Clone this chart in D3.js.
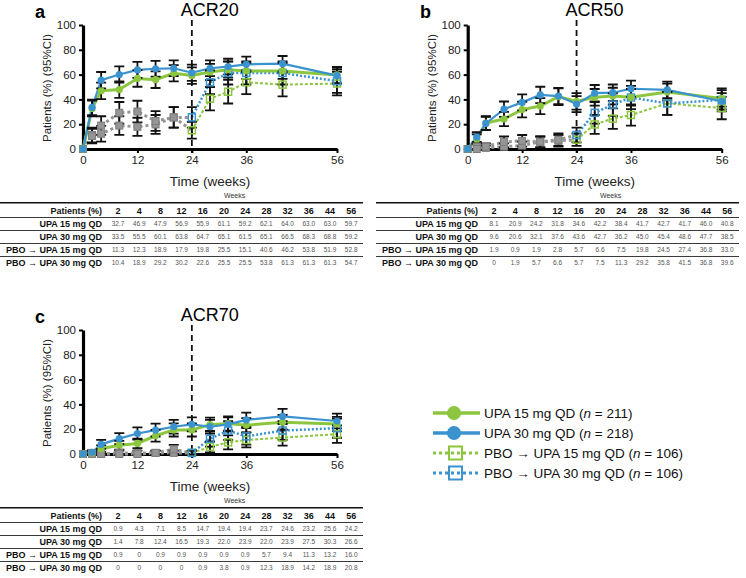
<!DOCTYPE html>
<html><head><meta charset="utf-8">
<script src="https://cdn.jsdelivr.net/npm/d3@7"></script>
<style>body{margin:0;background:#fff}svg{display:block;font-family:"Liberation Sans",Arial,sans-serif}</style>
</head><body><svg id="c" width="746" height="578"></svg>
<script>
// ---------- data ----------
const weeks=[0,2,4,8,12,16,20,24,28,32,36,44,56];
const xTicks=[0,12,24,36,56];
const yTicks=[0,20,40,60,80,100];
const seriesNames=["UPA 15 mg QD","UPA 30 mg QD","PBO \u2192 UPA 15 mg QD","PBO \u2192 UPA 30 mg QD"];
const legendN=[211,218,106,106];
const panelTitles=["ACR20","ACR50","ACR70"];
const panelLetters=["a","b","c"];

const acr20_upa15=[0,32.7,46.9,47.9,56.9,55.9,61.1,59.2,62.1,64.0,63.0,63.0,59.7];
const acr20_upa30=[0,33.5,55.5,60.1,63.8,64.7,65.1,61.5,65.1,66.5,68.3,68.8,59.2];
const acr20_pbo15=[0,11.3,12.3,18.9,17.9,19.8,25.5,15.1,40.6,46.2,53.8,51.9,52.8];
const acr20_pbo30=[0,10.4,18.9,29.2,30.2,22.6,25.5,25.5,53.8,61.3,61.3,61.3,54.7];
const acr20_upa15_ci=[0,6.3,6.7,6.7,6.7,6.7,6.6,6.6,6.5,6.5,6.5,6.5,6.6];
const acr20_upa30_ci=[0,6.3,6.6,6.5,6.4,6.3,6.3,6.5,6.3,6.3,6.2,6.2,6.5];
const acr20_pbo15_ci=[0,6.0,6.3,7.5,7.3,7.6,8.3,6.8,9.4,9.5,9.5,9.5,9.5];
const acr20_pbo30_ci=[0,5.8,7.5,8.7,8.7,8.0,8.3,8.3,9.5,9.3,9.3,9.3,9.5];

const acr50_upa15=[0,8.1,20.9,24.2,31.8,34.6,42.2,38.4,41.7,42.7,41.7,46.0,40.8];
const acr50_upa30=[0,9.6,20.6,32.1,37.6,43.6,42.7,36.2,45.0,45.4,48.6,47.7,38.5];
const acr50_pbo15=[0,1.9,0.9,1.9,2.8,5.7,6.6,7.5,19.8,24.5,27.4,36.8,33.0];
const acr50_pbo30=[0,0,1.9,5.7,6.6,5.7,7.5,11.3,29.2,35.8,41.5,36.8,39.6];
const acr50_upa15_ci=[0,3.7,5.5,5.8,6.3,6.4,6.7,6.6,6.7,6.7,6.7,6.7,6.6];
const acr50_upa30_ci=[0,3.9,5.4,6.2,6.4,6.6,6.6,6.4,6.6,6.6,6.6,6.6,6.5];
const acr50_pbo15_ci=[0,2.6,1.8,2.6,3.1,4.4,4.7,5.0,7.6,8.2,8.5,9.2,9.0];
const acr50_pbo30_ci=[0,0,2.6,4.4,4.7,4.4,5.0,6.0,8.7,9.1,9.4,9.2,9.3];

const acr70_upa15=[0,0.9,4.3,7.1,8.5,14.7,19.4,19.4,23.7,24.6,23.2,25.6,24.2];
const acr70_upa30=[0,1.4,7.8,12.4,16.5,19.3,22.0,23.9,22.0,23.9,27.5,30.3,26.6];
const acr70_pbo15=[0,0.9,0,0.9,0.9,0.9,0.9,0.9,5.7,9.4,11.3,13.2,16.0];
const acr70_pbo30=[0,0,0,0,0,0.9,3.8,0.9,12.3,18.9,14.2,18.9,20.8];
const acr70_upa15_ci=[0,1.3,2.7,3.5,3.8,4.8,5.3,5.3,5.7,5.8,5.7,5.9,5.8];
const acr70_upa30_ci=[0,1.6,3.6,4.4,4.9,5.2,5.5,5.7,5.5,5.7,5.9,6.1,5.9];
const acr70_pbo15_ci=[0,1.8,0,1.8,1.8,1.8,1.8,1.8,4.4,5.6,6.0,6.4,7.0];
const acr70_pbo30_ci=[0,0,0,0,0,1.8,3.6,1.8,6.3,7.5,6.7,7.5,7.7];

// ---------- styles ----------
const GREEN="#8cc63f", BLUE="#3a92ce", GRAY="#959595";
const svg=d3.select("#c");
const switchIdx=weeks.indexOf(24);

const panels=[
  {vals:[acr20_upa15,acr20_upa30,acr20_pbo15,acr20_pbo30],ci:[acr20_upa15_ci,acr20_upa30_ci,acr20_pbo15_ci,acr20_pbo30_ci],left:83,bottom:149,letterX:35},
  {vals:[acr50_upa15,acr50_upa30,acr50_pbo15,acr50_pbo30],ci:[acr50_upa15_ci,acr50_upa30_ci,acr50_pbo15_ci,acr50_pbo30_ci],left:467.7,bottom:149,letterX:420},
  {vals:[acr70_upa15,acr70_upa30,acr70_pbo15,acr70_pbo30],ci:[acr70_upa15_ci,acr70_upa30_ci,acr70_pbo15_ci,acr70_pbo30_ci],left:83,bottom:454,letterX:35}
];

function drawPanel(p,i){
  const x=d3.scaleLinear().domain([0,56]).range([p.left,p.left+254]);
  const y=d3.scaleLinear().domain([0,100]).range([p.bottom,p.bottom-124]);
  const g=svg.append("g");
  const top=p.bottom-124;
  // letter + title
  g.append("text").attr("x",p.letterX).attr("y",top-7).attr("font-size",18).attr("font-weight","bold").text(panelLetters[i]);
  g.append("text").attr("x",x(24)+18).attr("y",top-9).attr("text-anchor","middle").attr("font-size",18).text(panelTitles[i]);
  // dashed line
  g.append("line").attr("x1",x(24)).attr("x2",x(24)).attr("y1",top-5).attr("y2",y(0)+4)
    .attr("stroke","#111").attr("stroke-width",1.8).attr("stroke-dasharray","6,4");
  // axes
  const ya=g.append("g").attr("transform",`translate(${x(0)},0)`)
    .call(d3.axisLeft(y).tickValues(yTicks).tickSize(4).tickSizeOuter(0).tickPadding(3));
  const xa=g.append("g").attr("transform",`translate(0,${y(0)})`)
    .call(d3.axisBottom(x).tickValues(xTicks).tickSize(4).tickSizeOuter(0).tickPadding(3));
  [ya,xa].forEach(a=>{
    a.select(".domain").attr("stroke","#000").attr("stroke-width",3.2);
    a.selectAll(".tick line").attr("stroke","#000").attr("stroke-width",2);
    a.selectAll(".tick text").attr("font-size",11.5).attr("fill","#222").attr("font-family","Liberation Sans, Arial, sans-serif");
  });
  // axis titles
  g.append("text").attr("transform",`translate(${x(0)-36},${y(50)+1}) rotate(-90)`)
    .attr("text-anchor","middle").attr("dominant-baseline","central").attr("font-size",11.5).attr("fill","#222").text("Patients (%) (95%CI)");
  g.append("text").attr("x",x(28)+0).attr("y",y(0)+37).attr("text-anchor","middle").attr("font-size",13.5).attr("fill","#222").text("Time (weeks)");

  const pts=v=>weeks.map((w,k)=>[w,v[k]]);
  const line=d3.line().x(d=>x(d[0])).y(d=>y(d[1]));
  const [u15,u30,p15,p30]=p.vals.map(pts);
  // placebo phase (gray dotted)
  [p15,p30].forEach(s=>{
    g.append("path").attr("d",line(s.slice(0,switchIdx+1))).attr("fill","none")
      .attr("stroke",GRAY).attr("stroke-width",3).attr("stroke-dasharray","3,3");
  });
  // switched phase
  g.append("path").attr("d",line(p15.slice(switchIdx))).attr("fill","none").attr("stroke",GREEN).attr("stroke-width",2).attr("stroke-dasharray","3,2");
  g.append("path").attr("d",line(p30.slice(switchIdx))).attr("fill","none").attr("stroke",BLUE).attr("stroke-width",2.5).attr("stroke-dasharray","2,2");
  g.append("path").attr("d",line(u15)).attr("fill","none").attr("stroke",GREEN).attr("stroke-width",3);
  g.append("path").attr("d",line(u30)).attr("fill","none").attr("stroke",BLUE).attr("stroke-width",2.2);
  // error bars
  p.vals.forEach((v,si)=>{
    const ci=p.ci[si];
    weeks.forEach((w,k)=>{
      if(k===0||ci[k]===0) return;
      const lo=y(v[k]-ci[k]), hi=y(v[k]+ci[k]), cx=x(w);
      g.append("path").attr("d",`M${cx},${lo}V${hi}M${cx-5},${lo}H${cx+5}M${cx-5},${hi}H${cx+5}`)
        .attr("fill","none").attr("stroke","#111").attr("stroke-width",1.8);
    });
  });
  // markers
  [[p15,GREEN],[p30,BLUE]].forEach(([s,c])=>{
    s.forEach((d,k)=>{
      const r=g.append("rect").attr("x",x(d[0])-3.5).attr("y",y(d[1])-3.5).attr("width",7).attr("height",7);
      if(k<switchIdx) r.attr("fill",GRAY).attr("stroke","#7d7d7d").attr("stroke-width",1);
      else r.attr("fill","none").attr("stroke",c).attr("stroke-width",1.5);
    });
  });
  [[u15,GREEN],[u30,BLUE]].forEach(([s,c])=>{
    g.selectAll(null).data(s).enter().append("circle").attr("cx",d=>x(d[0])).attr("cy",d=>y(d[1])).attr("r",3.6).attr("fill",c);
  });
}
panels.forEach(drawPanel);

// ---------- tables ----------
const tableWeeks=weeks.slice(1);
function fmt(v){return v===0?"0":v.toFixed(1);}
function drawTable(vals,tx,ty){
  const g=svg.append("g").attr("transform",`translate(${tx},${ty})`);
  const cx=i=>118+21.2*i;
  g.append("text").attr("x",(cx(5)+cx(6))/2).attr("y",-4.5).attr("text-anchor","middle").attr("font-size",7).attr("fill","#333").text("Weeks");
  g.append("line").attr("x1",0).attr("x2",363).attr("y1",0).attr("y2",0).attr("stroke","#111").attr("stroke-width",1.4);
  for(let k=0;k<4;k++){
    g.append("line").attr("x1",0).attr("x2",363).attr("y1",14.8+13*k).attr("y2",14.8+13*k).attr("stroke","#222").attr("stroke-width",0.9);
  }
  g.append("text").attr("x",102).attr("y",8+3.2).attr("text-anchor","end").attr("font-size",9).attr("font-weight","bold").attr("fill","#111").text("Patients (%)");
  tableWeeks.forEach((w,i)=>g.append("text").attr("x",cx(i)).attr("y",8+3.2).attr("text-anchor","middle").attr("font-size",9).attr("font-weight","bold").attr("fill","#111").text(w));
  vals.forEach((v,r)=>{
    const yy=21+13*r+3.2;
    g.append("text").attr("x",102).attr("y",yy).attr("text-anchor","end").attr("font-size",9).attr("font-weight","bold").attr("fill","#111").text(seriesNames[r]);
    v.slice(1).forEach((d,i)=>g.append("text").attr("x",cx(i)).attr("y",yy-0.5).attr("text-anchor","middle").attr("font-size",6.5).attr("fill","#555").text(fmt(d)));
  });
}
drawTable(panels[0].vals,0,202.7);
drawTable(panels[1].vals,376,202.7);
drawTable(panels[2].vals,0,507.7);

// ---------- legend ----------
const legY=[413,433,453,473];
const legColors=[GREEN,BLUE,GREEN,BLUE];
const lg=svg.append("g");
seriesNames.forEach((name,i)=>{
  const yy=legY[i], c=legColors[i];
  if(i<2){
    lg.append("line").attr("x1",433).attr("x2",480).attr("y1",yy).attr("y2",yy).attr("stroke",c).attr("stroke-width",3.5);
    lg.append("circle").attr("cx",454).attr("cy",yy).attr("r",7).attr("fill",c);
  } else {
    lg.append("line").attr("x1",433).attr("x2",481).attr("y1",yy).attr("y2",yy).attr("stroke",c).attr("stroke-width",3).attr("stroke-dasharray","3,3");
    lg.append("rect").attr("x",449).attr("y",yy-6.5).attr("width",13).attr("height",13).attr("fill","none").attr("stroke",c).attr("stroke-width",2);
  }
  const t=lg.append("text").attr("x",484).attr("y",yy+4.8).attr("font-size",13.5).attr("fill","#111");
  t.append("tspan").text(name+" (");
  t.append("tspan").attr("font-style","italic").text("n");
  t.append("tspan").text(" = "+legendN[i]+")");
});
</script></body></html>
